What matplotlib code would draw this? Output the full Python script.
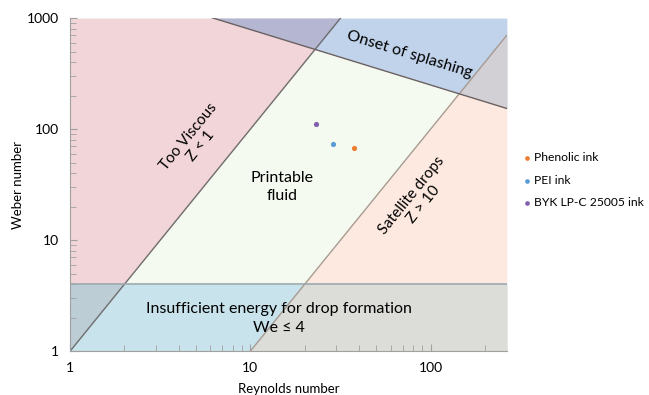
import numpy as np
import matplotlib
matplotlib.use("Agg")
import matplotlib.pyplot as plt

plt.rcParams["font.family"] = ["Lato", "DejaVu Sans"]

# regime boundaries
Z_LOW = 1.0          # Z < 1 too viscous
Z_HIGH = 10.0        # Z > 10 satellite drops
WE_MIN = 4.0         # We <= 4 insufficient energy
SPLASH_K = 50.0      # We^0.5 * Re^0.25 = 50 onset of splashing

RE_RANGE = [1, 265]
WE_RANGE = [1, 1000]

# inks (Re, We)
ink_names = ["Phenolic ink", "PEI ink", "BYK LP-C 25005 ink"]
ink_re = [37.4, 28.6, 23.1]
ink_we = [67, 73, 112]
ink_colors = ["#ed7d31", "#5b9bd5", "#7f5fae"]

re = np.logspace(np.log10(RE_RANGE[0]), np.log10(RE_RANGE[1]), 2000)
we_top = WE_RANGE[1]
we_bot = WE_RANGE[0]

z1 = (re / Z_LOW) ** 2
z10 = (re / Z_HIGH) ** 2
splash = (SPLASH_K ** 2) / np.sqrt(re)

fig = plt.figure(figsize=(6.49, 3.95), dpi=100)
ax = fig.add_axes([0.108, 0.111, 0.673, 0.843])
ax.set_xscale("log")
ax.set_yscale("log")
ax.set_xlim(RE_RANGE)
ax.set_ylim(WE_RANGE)
ax.set_facecolor("#f5faf0")

# too viscous
ax.fill_between(re, np.clip(z1, we_bot, we_top), we_top, color="#f2d5d8", lw=0)
# satellite drops
ax.fill_between(re, we_bot, np.clip(z10, we_bot, we_top), color="#fde9df", lw=0)
# splashing
ax.fill_between(re, np.clip(splash, we_bot, we_top), we_top, color="#c0d3ea", lw=0)
# splashing + too viscous
ax.fill_between(re, np.clip(np.maximum(z1, splash), we_bot, we_top), we_top,
                color="#b4b6d2", lw=0)
# splashing + satellite
ax.fill_between(re, np.clip(splash, we_bot, we_top), np.clip(z10, we_bot, we_top),
                where=z10 > splash, color="#d2d0d4", lw=0)
# insufficient energy band
ax.fill_between(re, we_bot, WE_MIN, color="#c8e3ec", lw=0)
ax.fill_between(re, np.clip(z1, we_bot, WE_MIN), WE_MIN, where=z1 < WE_MIN,
                color="#bccdd6", lw=0)
ax.fill_between(re, we_bot, np.clip(z10, we_bot, WE_MIN), where=z10 > we_bot,
                color="#dcdcd8", lw=0)

# boundary lines
ax.plot(re, z1, color="#6f6f6f", lw=1.0)
ax.plot(re, z10, color="#a89a90", lw=1.0)
ax.plot(re, splash, color="#6d6262", lw=1.0)
ax.axhline(WE_MIN, color="#9aa8ad", lw=1.2)

for name, x, y, c in zip(ink_names, ink_re, ink_we, ink_colors):
    ax.scatter(x, y, s=14, color=c, label=name, zorder=5, lw=0)

# region labels
ax.text(4.9, 78, "Too Viscous\nZ < 1", rotation=51, ha="center", va="center",
        fontsize=11, linespacing=1.1)
ax.text(85, 23, "Satellite drops\nZ > 10", rotation=51, ha="center", va="center",
        fontsize=11, linespacing=1.1)
ax.text(76, 470, "Onset of splashing", rotation=-17, ha="center", va="center",
        fontsize=11.5)
ax.text(15, 30, "Printable\nfluid", ha="center", va="center", fontsize=11.5,
        linespacing=1.35)
ax.text(14.5, 1.95, "Insufficient energy for drop formation\nWe \u2264 4",
        ha="center", va="center", fontsize=11.5, linespacing=1.45)

ax.set_xticks([1, 10, 100])
ax.set_xticklabels(["1", "10", "100"])
ax.set_yticks([1, 10, 100, 1000])
ax.set_yticklabels(["1", "10", "100", "1000"])
ax.tick_params(axis="both", which="both", direction="in", color="#a0a0a0",
               labelsize=10, pad=8)
ax.tick_params(which="major", length=5)
ax.tick_params(which="minor", length=4)
for side in ["top", "right"]:
    ax.spines[side].set_visible(False)
for side in ["left", "bottom"]:
    ax.spines[side].set_color("#a0a0a0")

ax.set_xlabel("Reynolds number", fontsize=9.5, labelpad=6)
ax.set_ylabel("Weber number", fontsize=9.5, labelpad=2)

ax.legend(loc="center left", bbox_to_anchor=(1.013, 0.513), frameon=False,
          fontsize=8.7, handletextpad=0.1, markerscale=0.9, labelspacing=0.95,
          handlelength=1.0, borderaxespad=0.3)

fig.savefig("out.png", dpi=100)
